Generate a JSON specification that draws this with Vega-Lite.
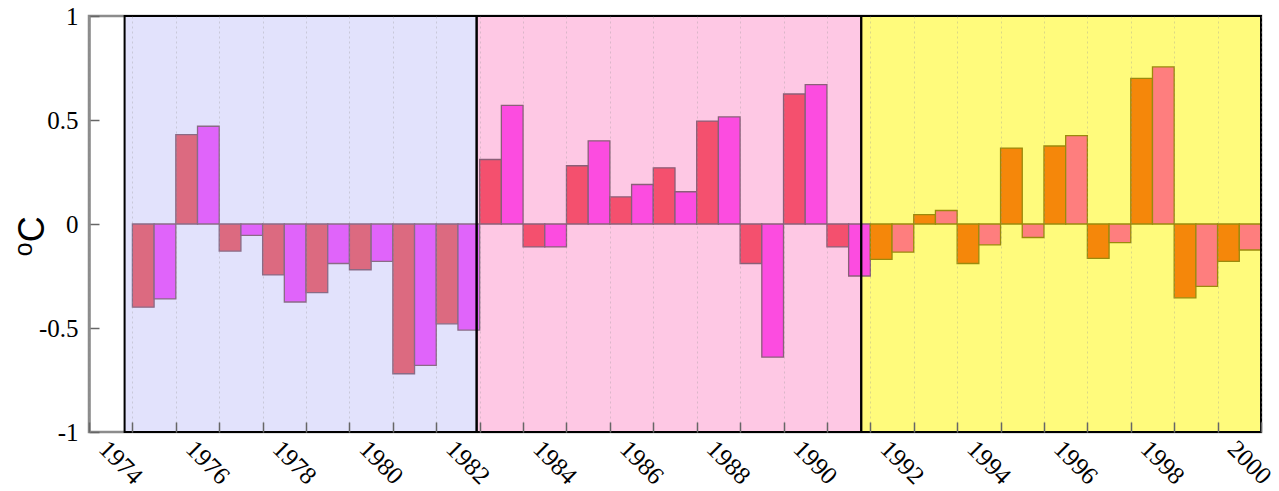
{
  "$schema": "https://vega.github.io/schema/vega-lite/v6.json",
  "width": 1172,
  "height": 416,
  "autosize": {"type": "none"},
  "padding": {"left": 89, "top": 16, "right": 18, "bottom": 59},
  "background": "white",
  "config": {
    "view": {"stroke": "#8c8c8c", "strokeWidth": 2.5, "fill": "white"}
  },
  "datasets": {
    "periods": [
      {"start": 1973.82, "end": 1981.93, "period": "I"},
      {"start": 1981.93, "end": 1990.79, "period": "II"},
      {"start": 1990.79, "end": 2000, "period": "III"}
    ],
    "anomalies": [
      {"from": 1974.0, "to": 1974.5, "anomaly": -0.40, "group": "I-a", "period": "I"},
      {"from": 1974.5, "to": 1975.0, "anomaly": -0.36, "group": "I-b", "period": "I"},
      {"from": 1975.0, "to": 1975.5, "anomaly": 0.43, "group": "I-a", "period": "I"},
      {"from": 1975.5, "to": 1976.0, "anomaly": 0.47, "group": "I-b", "period": "I"},
      {"from": 1976.0, "to": 1976.5, "anomaly": -0.13, "group": "I-a", "period": "I"},
      {"from": 1976.5, "to": 1977.0, "anomaly": -0.055, "group": "I-b", "period": "I"},
      {"from": 1977.0, "to": 1977.5, "anomaly": -0.245, "group": "I-a", "period": "I"},
      {"from": 1977.5, "to": 1978.0, "anomaly": -0.375, "group": "I-b", "period": "I"},
      {"from": 1978.0, "to": 1978.5, "anomaly": -0.33, "group": "I-a", "period": "I"},
      {"from": 1978.5, "to": 1979.0, "anomaly": -0.19, "group": "I-b", "period": "I"},
      {"from": 1979.0, "to": 1979.5, "anomaly": -0.22, "group": "I-a", "period": "I"},
      {"from": 1979.5, "to": 1980.0, "anomaly": -0.18, "group": "I-b", "period": "I"},
      {"from": 1980.0, "to": 1980.5, "anomaly": -0.72, "group": "I-a", "period": "I"},
      {"from": 1980.5, "to": 1981.0, "anomaly": -0.68, "group": "I-b", "period": "I"},
      {"from": 1981.0, "to": 1981.5, "anomaly": -0.48, "group": "I-a", "period": "I"},
      {"from": 1981.5, "to": 1982.0, "anomaly": -0.51, "group": "I-b", "period": "I"},
      {"from": 1982.0, "to": 1982.5, "anomaly": 0.31, "group": "II-a", "period": "II"},
      {"from": 1982.5, "to": 1983.0, "anomaly": 0.57, "group": "II-b", "period": "II"},
      {"from": 1983.0, "to": 1983.5, "anomaly": -0.11, "group": "II-a", "period": "II"},
      {"from": 1983.5, "to": 1984.0, "anomaly": -0.11, "group": "II-b", "period": "II"},
      {"from": 1984.0, "to": 1984.5, "anomaly": 0.28, "group": "II-a", "period": "II"},
      {"from": 1984.5, "to": 1985.0, "anomaly": 0.40, "group": "II-b", "period": "II"},
      {"from": 1985.0, "to": 1985.5, "anomaly": 0.13, "group": "II-a", "period": "II"},
      {"from": 1985.5, "to": 1986.0, "anomaly": 0.19, "group": "II-b", "period": "II"},
      {"from": 1986.0, "to": 1986.5, "anomaly": 0.27, "group": "II-a", "period": "II"},
      {"from": 1986.5, "to": 1987.0, "anomaly": 0.155, "group": "II-b", "period": "II"},
      {"from": 1987.0, "to": 1987.5, "anomaly": 0.495, "group": "II-a", "period": "II"},
      {"from": 1987.5, "to": 1988.0, "anomaly": 0.515, "group": "II-b", "period": "II"},
      {"from": 1988.0, "to": 1988.5, "anomaly": -0.19, "group": "II-a", "period": "II"},
      {"from": 1988.5, "to": 1989.0, "anomaly": -0.64, "group": "II-b", "period": "II"},
      {"from": 1989.0, "to": 1989.5, "anomaly": 0.625, "group": "II-a", "period": "II"},
      {"from": 1989.5, "to": 1990.0, "anomaly": 0.67, "group": "II-b", "period": "II"},
      {"from": 1990.0, "to": 1990.5, "anomaly": -0.11, "group": "II-a", "period": "II"},
      {"from": 1990.5, "to": 1991.0, "anomaly": -0.25, "group": "II-b", "period": "II"},
      {"from": 1991.0, "to": 1991.5, "anomaly": -0.17, "group": "III-a", "period": "III"},
      {"from": 1991.5, "to": 1992.0, "anomaly": -0.135, "group": "III-b", "period": "III"},
      {"from": 1992.0, "to": 1992.5, "anomaly": 0.045, "group": "III-a", "period": "III"},
      {"from": 1992.5, "to": 1993.0, "anomaly": 0.065, "group": "III-b", "period": "III"},
      {"from": 1993.0, "to": 1993.5, "anomaly": -0.19, "group": "III-a", "period": "III"},
      {"from": 1993.5, "to": 1994.0, "anomaly": -0.10, "group": "III-b", "period": "III"},
      {"from": 1994.0, "to": 1994.5, "anomaly": 0.365, "group": "III-a", "period": "III"},
      {"from": 1994.5, "to": 1995.0, "anomaly": -0.065, "group": "III-b", "period": "III"},
      {"from": 1995.0, "to": 1995.5, "anomaly": 0.375, "group": "III-a", "period": "III"},
      {"from": 1995.5, "to": 1996.0, "anomaly": 0.425, "group": "III-b", "period": "III"},
      {"from": 1996.0, "to": 1996.5, "anomaly": -0.165, "group": "III-a", "period": "III"},
      {"from": 1996.5, "to": 1997.0, "anomaly": -0.09, "group": "III-b", "period": "III"},
      {"from": 1997.0, "to": 1997.5, "anomaly": 0.70, "group": "III-a", "period": "III"},
      {"from": 1997.5, "to": 1998.0, "anomaly": 0.755, "group": "III-b", "period": "III"},
      {"from": 1998.0, "to": 1998.5, "anomaly": -0.355, "group": "III-a", "period": "III"},
      {"from": 1998.5, "to": 1999.0, "anomaly": -0.30, "group": "III-b", "period": "III"},
      {"from": 1999.0, "to": 1999.5, "anomaly": -0.18, "group": "III-a", "period": "III"},
      {"from": 1999.5, "to": 2000.0, "anomaly": -0.125, "group": "III-b", "period": "III"}
    ]
  },
  "layer": [
    {
      "data": {"name": "periods"},
      "mark": {"type": "rect", "strokeWidth": 0},
      "encoding": {
        "x": {
          "field": "start", "type": "quantitative",
          "scale": {"domain": [1973, 2000], "nice": false, "zero": false},
          "axis": {
            "orient": "bottom", "title": null, "zindex": 1,
            "values": [1973, 1974, 1975, 1976, 1977, 1978, 1979, 1980, 1981, 1982, 1983, 1984, 1985, 1986, 1987, 1988, 1989, 1990, 1991, 1992, 1993, 1994, 1995, 1996, 1997, 1998, 1999, 2000],
            "format": "d",
            "labelExpr": "datum.value % 2 === 0 && datum.value > 1973 ? datum.label : ''",
            "domain": false,
            "ticks": true, "tickSize": -10, "tickColor": "#666666", "tickWidth": 1.5,
            "grid": true, "gridColor": "#999999", "gridOpacity": 0.35, "gridDash": [2, 3], "gridWidth": 1,
            "labelFont": "Liberation Serif", "labelFontSize": 25, "labelColor": "black",
            "labelAngle": 45, "labelAlign": "center", "labelBaseline": "middle",
            "labelPadding": 40, "labelOffset": -12, "labelOverlap": false, "labelFlush": false
          }
        },
        "x2": {"field": "end"},
        "y": {
          "datum": -1, "type": "quantitative",
          "scale": {"domain": [-1, 1], "nice": false},
          "axis": {
            "orient": "left",
            "values": [-1, -0.5, 0, 0.5, 1],
            "labelExpr": "toString(datum.value)",
            "domain": true, "domainColor": "#8c8c8c", "domainWidth": 2.5,
            "ticks": true, "tickSize": -10, "tickColor": "#666666", "tickWidth": 1.5,
            "grid": false,
            "labelFont": "Liberation Serif", "labelFontSize": 25, "labelColor": "black",
            "labelPadding": 21, "labelBaseline": "middle", "labelFlush": false,
            "title": "⁰C",
            "titleFont": "Liberation Sans, DejaVu Sans", "titleFontSize": 36, "titleFontWeight": "normal",
            "titleColor": "black", "titleAngle": -90, "titleAlign": "center", "titleBaseline": "alphabetic",
            "titleX": -46, "titleY": 220
          }
        },
        "y2": {"datum": 1},
        "fill": {
          "field": "period", "type": "nominal", "legend": null,
          "scale": {
            "domain": ["I", "II", "III", "I-a", "I-b", "II-a", "II-b", "III-a", "III-b"],
            "range": ["#e2e2fc", "#fec8e4", "#fffb7c", "#dc6a80", "#e064fa", "#f4506e", "#fc4ce0", "#f5870a", "#fe7e7e"]
          }
        }
      }
    },
    {
      "data": {"name": "anomalies"},
      "mark": {"type": "rect", "strokeWidth": 1.3},
      "encoding": {
        "x": {"field": "from", "type": "quantitative", "axis": null},
        "x2": {"field": "to"},
        "y": {"field": "anomaly", "type": "quantitative", "axis": null},
        "y2": {"datum": 0},
        "fill": {"field": "group", "type": "nominal", "legend": null},
        "stroke": {
          "field": "period", "type": "nominal", "legend": null,
          "scale": {"domain": ["I", "II", "III"], "range": ["#8a6b86", "#8a5f78", "#9b8a0c"]}
        }
      }
    },
    {
      "data": {"name": "periods"},
      "mark": {"type": "rect", "fill": null, "fillOpacity": 0, "stroke": "black", "strokeWidth": 2},
      "encoding": {
        "x": {
          "field": "start", "type": "quantitative",
          "axis": {
            "orient": "top", "title": null, "labels": false, "domain": false, "grid": false,
            "values": [1974, 1975, 1976, 1977, 1978, 1979, 1980, 1981, 1982, 1983, 1984, 1985, 1986, 1987, 1988, 1989, 1990, 1991, 1992, 1993, 1994, 1995, 1996, 1997, 1998, 1999],
            "ticks": true, "tickSize": -10, "tickColor": "#666666", "tickWidth": 1.5
          }
        },
        "x2": {"field": "end"},
        "y": {
          "datum": -1, "type": "quantitative",
          "axis": {
            "orient": "right", "title": null, "labels": false, "domain": false, "grid": false,
            "values": [-0.5, 0.5],
            "ticks": true, "tickSize": -10, "tickColor": "#666666", "tickWidth": 1.5
          }
        },
        "y2": {"datum": 1}
      }
    }
  ],
  "resolve": {"axis": {"x": "independent", "y": "independent"}}
}
